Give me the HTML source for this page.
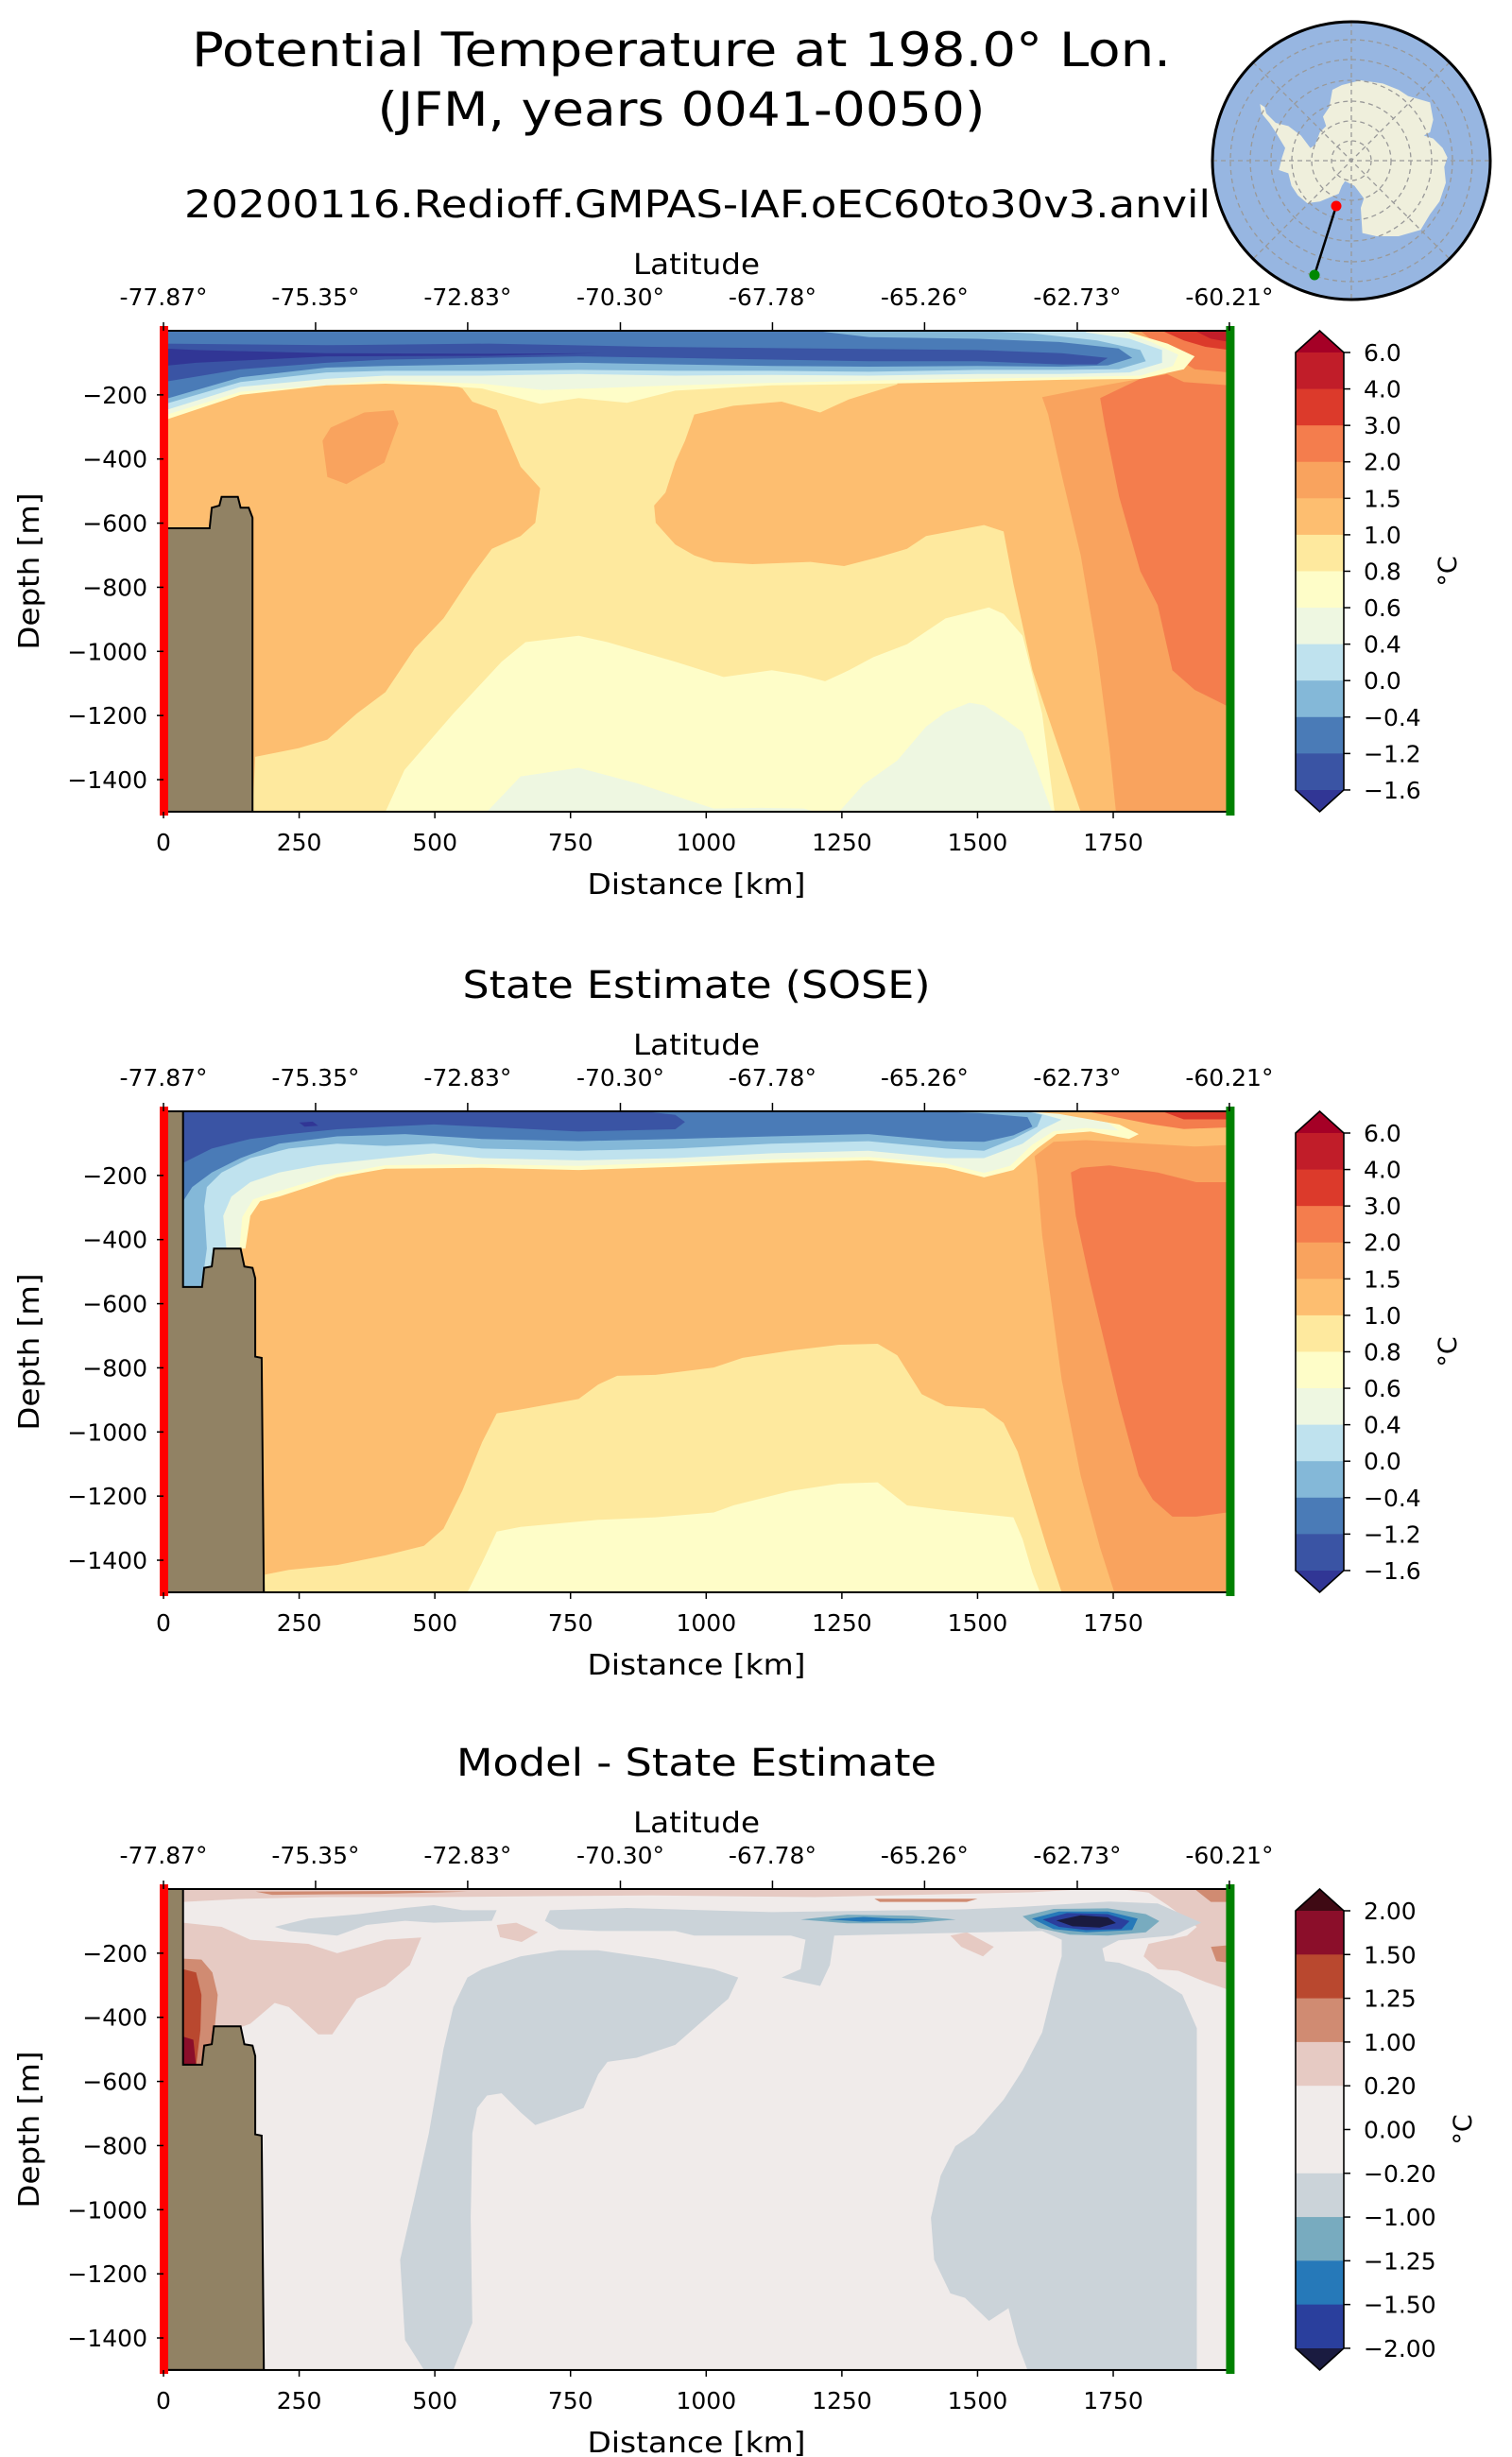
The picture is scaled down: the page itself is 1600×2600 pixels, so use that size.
<!DOCTYPE html>
<html><head><meta charset="utf-8"><style>
html,body{margin:0;padding:0;background:#fff}
svg{display:block}
text{font-family:"DejaVu Sans","Liberation Sans",sans-serif;fill:#000}
</style></head><body>
<svg id="fig" xmlns="http://www.w3.org/2000/svg" width="1600" height="2600" viewBox="0 0 1600 2600">
<rect width="1600" height="2600" fill="#fff"/>
<text x="721" y="70" font-size="50" text-anchor="middle" textLength="1036" lengthAdjust="spacingAndGlyphs">Potential Temperature at 198.0° Lon.</text>
<text x="721" y="133" font-size="50" text-anchor="middle" textLength="643" lengthAdjust="spacingAndGlyphs">(JFM, years 0041-0050)</text>
<text x="738" y="230" font-size="40" text-anchor="middle" textLength="1086" lengthAdjust="spacingAndGlyphs">20200116.Redioff.GMPAS-IAF.oEC60to30v3.anvil</text>
<g>
<circle cx="1430" cy="170" r="147" fill="#97b6e1"/>
<g transform="translate(1250,0) scale(0.3333)">
<polygon fill="#efefdc" points="480,285 510,270 570,255 640,265 690,285 720,305 790,325 800,380 790,420 770,430 800,440 830,470 845,500 835,530 840,580 820,640 790,680 760,730 690,750 620,750 575,740 570,660 580,630 550,590 520,575 510,590 500,615 440,640 400,645 370,620 350,590 340,550 310,540 320,500 330,470 300,420 280,390 255,360 250,330 265,340 270,360 300,390 340,400 380,430 410,470 425,460 440,420 460,400 450,370 470,340"/>
</g>
<g fill="none" stroke="#999" stroke-width="1.3" stroke-dasharray="5,4">
<circle cx="1430" cy="170" r="21"/><circle cx="1430" cy="170" r="42"/><circle cx="1430" cy="170" r="63"/><circle cx="1430" cy="170" r="85"/><circle cx="1430" cy="170" r="107"/><circle cx="1430" cy="170" r="128"/>
<line x1="1283" y1="170" x2="1577" y2="170"/><line x1="1430" y1="23" x2="1430" y2="317"/>
<line x1="1326" y1="66" x2="1534" y2="274"/><line x1="1534" y1="66" x2="1326" y2="274"/>
</g>
<line x1="1414" y1="218" x2="1391" y2="291" stroke="#000" stroke-width="2.5"/>
<circle cx="1414" cy="218" r="5.5" fill="#f00"/>
<circle cx="1391" cy="291" r="5.5" fill="#080"/>
<circle cx="1430" cy="170" r="147" fill="none" stroke="#000" stroke-width="3"/>
</g>
</svg>
<script>
// ---------- data ----------
const xTicks = [0,250,500,750,1000,1250,1500,1750];
const yTicks = [200,400,600,800,1000,1200,1400];
const latTicks = [-77.87,-75.35,-72.83,-70.30,-67.78,-65.26,-62.73,-60.21];
const tempLevels = ['6.0','4.0','3.0','2.0','1.5','1.0','0.8','0.6','0.4','0.0','\u22120.4','\u22121.2','\u22121.6'];
const tempColors = ['#313695','#3a54a4','#4a7bb7','#84b8d8','#bfe2ee','#eef7e1','#fefdc8','#fee99e','#fdbe70','#f9a35e','#f47d4d','#dc3a2b','#c11d29','#a50026'];
const diffLevels = ['2.00','1.50','1.25','1.00','0.20','0.00','\u22120.20','\u22121.00','\u22121.25','\u22121.50','\u22122.00'];
const diffColors = ['#1a1b40','#2a3f9d','#2679b9','#78abbf','#cbd3d9','#f0ebea','#f0ebea','#e6cac3','#d08b72','#b9482f','#8b0e2a','#3f0a14'];
const domain = [[0,0],[1964,0],[1964,1500],[0,1500]];

// Panel 1 (model) contour regions [km, depth m]
const p1Yellow = [[444,113],[1352,113],[1352,167],[1263,214],[1210,255],[1139,221],[1050,234],[978,261],[961,343],[943,410],[925,505],[904,545],[907,599],[943,667],[978,701],[1014,721],[1085,728],[1192,721],[1254,734],[1316,707],[1370,680],[1405,640],[1512,606],[1548,626],[1566,789],[1601,1059],[1655,1329],[1690,1500],[164,1500],[169,1329],[249,1302],[302,1275],[356,1194],[409,1127],[463,991],[516,897],[569,762],[605,680],[658,640],[685,599],[694,491],[658,424],[614,248],[569,221],[551,180]];
const p1Pale = [[409,1500],[444,1370],[534,1194],[623,1032],[667,971],[765,951],[818,971],[943,1032],[1032,1080],[1121,1059],[1174,1073],[1219,1093],[1263,1059],[1308,1018],[1370,978],[1441,897],[1521,863],[1548,883],[1583,951],[1619,1194],[1642,1500]];
const p1GreenA = [[596,1500],[658,1390],[765,1363],[872,1411],[943,1451],[1014,1490],[1100,1488],[1180,1490],[1200,1500]];
const p1GreenB = [[1245,1500],[1290,1415],[1352,1340],[1405,1235],[1441,1190],[1485,1160],[1512,1168],[1548,1208],[1583,1252],[1610,1370],[1637,1500]];
const p1LeftPatch = [[308,302],[370,255],[424,248],[433,289],[407,411],[337,478],[302,456],[293,343]];
const p1Warm15 = [[1619,207],[1630,260],[1655,450],[1690,700],[1720,1000],[1743,1300],[1755,1500],[1964,1500],[1964,150],[1800,150],[1700,180]];
const p1Warm20 = [[1726,210],[1735,300],[1761,518],[1800,750],[1832,856],[1859,1059],[1900,1120],[1964,1174],[1964,100],[1800,150]];
const p1Top15 = [[1620,0],[1964,0],[1964,170],[1880,160],[1830,120],[1760,70]];
const p1Top20 = [[1800,0],[1964,0],[1964,130],[1900,120],[1850,70]];
const p1Top30 = [[1840,0],[1964,0],[1964,60],[1920,50],[1880,30]];
const p1Top40 = [[1900,0],[1964,0],[1964,35],[1930,25]];
const p1SurfA = [[0,0],[0,280],[142,200],[300,170],[409,165],[500,170],[587,180],[694,228],[765,210],[854,225],[943,187],[1121,170],[1300,166],[1477,160],[1655,153],[1800,150],[1880,120],[1900,80],[1850,40],[1780,5],[1780,0]];
const p1SurfB = [[0,0],[0,265],[142,190],[409,155],[587,165],[700,185],[943,170],[1300,155],[1655,145],[1800,140],[1860,110],[1870,75],[1820,35],[1760,0]];
const p1SurfC = [[0,0],[0,250],[142,175],[300,150],[409,140],[587,140],[765,135],[943,140],[1121,138],[1300,140],[1500,135],[1655,135],[1780,130],[1840,100],[1840,60],[1780,25],[1700,5],[1700,0]];
const p1SurfD = [[0,0],[0,230],[142,160],[300,130],[409,125],[587,125],[765,122],[943,125],[1121,125],[1300,128],[1500,122],[1655,122],[1760,120],[1810,95],[1800,60],[1720,30],[1600,8],[1500,0]];
const p1SurfE = [[0,0],[0,215],[142,145],[300,115],[409,110],[587,105],[765,100],[943,105],[1121,110],[1300,112],[1500,110],[1655,112],[1740,108],[1785,85],[1760,55],[1650,35],[1500,25],[1300,20],[1200,0]];
const p1SurfF = [[0,40],[300,45],[600,40],[900,50],[1200,55],[1500,60],[1655,70],[1740,85],[1720,105],[1655,105],[1500,95],[1300,95],[1121,90],[943,85],[765,80],[587,85],[409,90],[300,100],[142,120],[0,160]];
const p1SurfG = [[0,55],[60,60],[300,70],[600,72],[800,70],[600,78],[300,80],[60,100],[0,110]];
const p1Land = [[0,616],[85,616],[89,552],[103,545],[107,518],[137,518],[142,552],[157,552],[164,583],[164,1500],[0,1500]];

// Panel 2 (SOSE)
const p2Yellow = [[185,1500],[187,1445],[231,1430],[320,1415],[409,1385],[480,1355],[516,1302],[551,1182],[587,1032],[614,942],[658,930],[765,897],[801,852],[836,825],[907,822],[1014,799],[1067,769],[1156,746],[1245,728],[1316,725],[1352,761],[1397,882],[1441,919],[1512,927],[1548,972],[1574,1062],[1601,1212],[1628,1362],[1655,1500]];
const p2Pale = [[560,1500],[587,1408],[614,1311],[658,1296],[801,1274],[907,1266],[1014,1251],[1050,1229],[1156,1184],[1245,1161],[1316,1157],[1370,1229],[1441,1244],[1566,1266],[1583,1334],[1601,1439],[1615,1500]];
const p2Warm15 = [[1605,140],[1640,95],[1700,90],[1800,100],[1900,110],[1964,105],[1964,1500],[1752,1500],[1726,1362],[1690,1137],[1655,837],[1619,386],[1610,200]];
const p2Warm20 = [[1672,191],[1690,176],[1743,169],[1832,191],[1903,221],[1964,221],[1964,1250],[1903,1264],[1859,1264],[1823,1211],[1797,1137],[1761,912],[1708,537],[1681,326]];
const p2Top20 = [[1700,0],[1964,0],[1964,50],[1880,55],[1820,40],[1760,20]];
const p2Top30 = [[1840,0],[1964,0],[1964,25],[1880,25]];
const p2SurfA = [[36,0],[36,548],[71,548],[75,488],[89,484],[93,428],[151,428],[160,326],[178,281],[213,266],[267,236],[320,206],[409,179],[587,176],[765,183],[943,173],[1121,161],[1299,153],[1441,176],[1512,206],[1566,183],[1610,116],[1646,71],[1708,63],[1779,86],[1797,71],[1761,41],[1655,11],[1583,0]];
const p2SurfB = [[36,0],[36,548],[71,548],[75,488],[89,484],[93,428],[140,428],[145,330],[165,275],[200,255],[260,225],[320,195],[409,168],[587,165],[765,170],[943,160],[1121,150],[1299,142],[1441,163],[1512,192],[1560,170],[1600,105],[1640,62],[1700,52],[1760,60],[1740,35],[1650,8],[1583,0]];
const p2SurfC = [[36,0],[36,548],[71,548],[75,488],[89,484],[93,428],[116,428],[110,326],[125,266],[160,221],[213,191],[285,168],[409,146],[498,131],[587,146],[765,153],[943,146],[1121,131],[1299,123],[1441,146],[1512,146],[1583,101],[1619,56],[1655,26],[1600,0]];
const p2SurfD = [[36,0],[36,548],[71,548],[75,488],[80,428],[75,296],[80,236],[107,191],[160,146],[231,116],[320,101],[409,108],[498,101],[587,116],[765,123],[943,116],[1121,101],[1299,93],[1441,116],[1512,123],[1566,86],[1610,48],[1619,11],[1590,0]];
const p2SurfE = [[36,0],[36,281],[53,236],[89,191],[142,146],[213,101],[320,78],[445,71],[587,86],[765,93],[943,86],[1121,78],[1299,71],[1441,93],[1512,95],[1566,75],[1601,48],[1592,18],[1500,5],[1400,0]];
const p2SurfF = [[36,0],[36,161],[89,116],[160,86],[231,71],[320,56],[409,48],[498,41],[587,48],[765,63],[943,56],[961,33],[943,11],[900,3],[700,0]];
const p2SurfG = [[250,35],[275,32],[285,45],[260,48]];
const p2Land = [[0,0],[36,0],[36,548],[71,548],[75,488],[89,484],[93,428],[142,428],[149,484],[164,488],[169,521],[169,765],[181,769],[185,1500],[0,1500]];

// Panel 3 (difference)
const p3TopStrip = [[36,0],[1700,0],[1600,10],[1200,25],[900,20],[700,22],[500,25],[300,25],[150,30],[36,40]];
const p3WarmLeft = [[36,105],[107,118],[160,158],[267,171],[320,200],[409,158],[475,151],[454,237],[409,302],[356,342],[311,453],[285,453],[231,368],[205,355],[160,420],[116,447],[80,552],[36,552]];
const p3WarmRight = [[1761,0],[1964,0],[1964,315],[1920,290],[1870,255],[1832,250],[1806,210],[1815,171],[1886,145],[1904,118],[1850,50],[1815,11]];
const p3BlobA = [[614,112],[650,105],[690,135],[660,165],[620,150]];
const p3BlobB = [[1450,145],[1480,135],[1530,180],[1510,210],[1470,180]];
const p3Mid1 = [[170,8],[460,6],[560,8],[400,15],[200,18]];
const p3Mid2 = [[1310,30],[1500,30],[1480,40],[1320,40]];
const p3Mid3 = [[1900,0],[1964,0],[1964,40],[1930,40]];
const p3Mid4 = [[1930,180],[1964,175],[1964,230],[1940,225]];
const p3WallA = [[36,217],[70,220],[90,260],[100,330],[95,420],[82,552],[36,552]];
const p3WallB = [[36,250],[60,260],[70,330],[68,440],[60,552],[36,552]];
const p3WallC = [[36,460],[55,470],[60,552],[36,552]];
const p3Cool1 = [[205,118],[267,92],[356,79],[445,59],[498,50],[551,66],[614,66],[605,99],[498,105],[445,99],[374,112],[320,145],[231,131]];
const p3Cool2 = [[703,99],[712,66],[854,59],[1121,72],[1477,63],[1583,55],[1743,39],[1832,45],[1912,105],[1860,145],[1760,160],[1730,185],[1735,225],[1761,230],[1815,263],[1877,329],[1904,434],[1904,1500],[1592,1500],[1574,1419],[1557,1307],[1521,1347],[1477,1275],[1450,1261],[1420,1156],[1414,1025],[1432,894],[1459,802],[1494,762],[1548,657],[1583,565],[1619,447],[1646,263],[1655,210],[1655,158],[1619,131],[1236,145],[1228,237],[1210,302],[1174,289],[1139,276],[1174,250],[1183,158],[1156,145],[978,145],[943,131],[801,131],[729,125]];
const p3Cool3 = [[560,276],[587,250],[658,210],[729,191],[801,191],[907,217],[1014,250],[1059,276],[1041,342],[1014,381],[978,434],[943,486],[872,526],[818,539],[801,578],[774,683],[720,716],[685,736],[658,696],[623,637],[596,644],[578,683],[569,762],[566,1025],[569,1353],[534,1500],[480,1500],[445,1406],[436,1156],[463,959],[489,762],[516,499],[534,368]];
const p3CoreRing = [[1583,85],[1640,62],[1740,60],[1810,78],[1835,100],[1810,135],[1740,145],[1670,142],[1610,120]];
const p3CoreMid = [[1600,92],[1650,70],[1740,70],[1795,92],[1785,128],[1700,135],[1640,125]];
const p3CoreDeep = [[1620,95],[1665,75],[1740,78],[1780,100],[1765,125],[1700,128],[1650,118]];
const p3CoreMin = [[1645,98],[1690,82],[1740,88],[1755,106],[1725,120],[1675,116]];
const p3StreakRing = [[1174,95],[1260,80],[1380,83],[1460,95],[1380,107],[1260,107]];
const p3StreakIn = [[1225,95],[1290,87],[1345,92],[1420,95],[1345,99],[1290,102]];
const p3Land = p2Land;

// layers: [colour index, region]
const p1Layers = [[8,domain],[7,p1Yellow],[6,p1Pale],[5,p1GreenA],[5,p1GreenB],[9,p1LeftPatch],[9,p1Warm15],[10,p1Warm20],[9,p1Top15],[10,p1Top20],[11,p1Top30],[12,p1Top40],[6,p1SurfA],[5,p1SurfB],[4,p1SurfC],[3,p1SurfD],[2,p1SurfE],[1,p1SurfF],[0,p1SurfG]];
const p2Layers = [[8,domain],[7,p2Yellow],[6,p2Pale],[9,p2Warm15],[10,p2Warm20],[10,p2Top20],[11,p2Top30],[6,p2SurfA],[5,p2SurfB],[4,p2SurfC],[3,p2SurfD],[2,p2SurfE],[1,p2SurfF],[0,p2SurfG]];
const p3Layers = [[5,domain],[7,p3TopStrip],[7,p3WarmLeft],[7,p3WarmRight],[7,p3BlobA],[7,p3BlobB],[8,p3Mid1],[8,p3Mid2],[8,p3Mid3],[8,p3Mid4],[8,p3WallA],[9,p3WallB],[10,p3WallC],[4,p3Cool1],[4,p3Cool2],[4,p3Cool3],[3,p3CoreRing],[2,p3CoreMid],[1,p3CoreDeep],[0,p3CoreMin],[3,p3StreakRing],[2,p3StreakIn]];

// ---------- drawing ----------
const NS='http://www.w3.org/2000/svg';
const svg=document.getElementById('fig');
const X0=173, KMPX=0.5743, DPX=0.3393, MAXKM=1964;
function xs(km){return X0+km*KMPX;}
function ys(top,d){return top+d*DPX;}
function latToKm(lat){return (lat-latTicks[0])/(latTicks[latTicks.length-1]-latTicks[0])*MAXKM;}
function mk(tag,attrs,parent){const e=document.createElementNS(NS,tag);for(const k in attrs)e.setAttribute(k,attrs[k]);(parent||svg).appendChild(e);return e;}
function txt(s,attrs,parent){const t=mk('text',attrs,parent);t.textContent=s;return t;}

function panel(top,layers,colors,land,levels,title,idx){
  const g=mk('g',{});
  
  
  const bottom=ys(top,1500), left=xs(0), right=xs(MAXKM);
  const cp=mk('clipPath',{id:'clip'+idx},g);
  mk('rect',{x:left,y:top,width:right-left,height:bottom-top},cp);
  const fg=mk('g',{'clip-path':'url(#clip'+idx+')'},g);
  
  
  layers.forEach(function(L,i){
    const p=mk('polygon',{points:L[1].map(function(q){return xs(q[0]).toFixed(1)+','+ys(top,q[1]).toFixed(1);}).join(' '),fill:colors[L[0]]},fg);
    
    
  });
  const ld=mk('polygon',{points:land.map(function(q){return xs(q[0]).toFixed(1)+','+ys(top,q[1]).toFixed(1);}).join(' '),fill:'#918264',stroke:'#000','stroke-width':2},fg);
  
  
  mk('rect',{x:left,y:top,width:right-left,height:bottom-top,fill:'none',stroke:'#000','stroke-width':2},g);
  const rl=mk('line',{x1:left+0.5,y1:top-5,x2:left+0.5,y2:bottom+4,stroke:'#f00','stroke-width':9},g);
  
  
  const gl=mk('line',{x1:right+1,y1:top-5,x2:right+1,y2:bottom+4,stroke:'#008000','stroke-width':9},g);
  
  
  xTicks.forEach(function(v){
    const x=xs(v);
    mk('line',{x1:x,y1:bottom,x2:x,y2:bottom+7,stroke:'#000','stroke-width':1.5},g);
    const t=txt(String(v),{x:x,y:bottom+41,'font-size':25,'text-anchor':'middle'},g);
    
    
  });
  const xl=txt('Distance [km]',{x:737,y:bottom+87,'font-size':30,'text-anchor':'middle',textLength:231,lengthAdjust:'spacingAndGlyphs'},g);
  
  
  yTicks.forEach(function(v){
    const y=ys(top,v);
    mk('line',{x1:left-7,y1:y,x2:left,y2:y,stroke:'#000','stroke-width':1.5},g);
    const t=txt('\u2212'+v,{x:left-17,y:y+9,'font-size':25,'text-anchor':'end'},g);
    
    
  });
  const yl=txt('Depth [m]',{x:0,y:0,'font-size':30,'text-anchor':'middle',transform:'translate(41,'+((top+bottom)/2)+') rotate(-90)',textLength:166,lengthAdjust:'spacingAndGlyphs'},g);
  
  
  latTicks.forEach(function(v){
    const x=xs(latToKm(v));
    mk('line',{x1:x,y1:top-9,x2:x,y2:top,stroke:'#000','stroke-width':1.5},g);
    const t=txt(v.toFixed(2)+'\u00b0',{x:x,y:top-27,'font-size':25,'text-anchor':'middle'},g);
    
    
  });
  const ll=txt('Latitude',{x:737,y:top-60,'font-size':30,'text-anchor':'middle',textLength:134,lengthAdjust:'spacingAndGlyphs'},g);
  
  
  if(title){
    const tt=txt(title,{x:737,y:top-120,'font-size':40,'text-anchor':'middle',textLength:(idx===3?508:495),lengthAdjust:'spacingAndGlyphs'},g);
    
    
  }
  const cb=mk('g',{},g);
  
  
  const cx0=1371, cx1=1422, cmid=(cx0+cx1)/2, c0=top+23, c1=bottom-23, n=levels.length-1, h=(c1-c0)/n;
  for(let i=0;i<n;i++){
    const r=mk('rect',{x:cx0,y:c0+i*h,width:cx1-cx0,height:h+0.6,fill:colors[n-i]},cb);
    
    
  }
  mk('polygon',{points:cx0+','+c0+' '+cmid+','+top+' '+cx1+','+c0,fill:colors[n+1]},cb);
  mk('polygon',{points:cx0+','+c1+' '+cmid+','+bottom+' '+cx1+','+c1,fill:colors[0]},cb);
  mk('polygon',{points:cx0+','+c0+' '+cmid+','+top+' '+cx1+','+c0+' '+cx1+','+c1+' '+cmid+','+bottom+' '+cx0+','+c1,fill:'none',stroke:'#000','stroke-width':1.6},cb);
  levels.forEach(function(s,i){
    const y=c0+i*h;
    mk('line',{x1:cx1,y1:y,x2:cx1+7,y2:y,stroke:'#000','stroke-width':1.5},cb);
    const t=txt(s,{x:1443,y:y+9,'font-size':25},cb);
    
    
  });
  const ul=txt('\u00b0C',{x:0,y:0,'font-size':27,'text-anchor':'middle',transform:'translate('+(idx===3?1557:1541)+','+((top+bottom)/2)+') rotate(-90)'},cb);
  
  
}
panel(350,p1Layers,tempColors,p1Land,tempLevels,null,1);
panel(1176,p2Layers,tempColors,p2Land,tempLevels,'State Estimate (SOSE)',2);
panel(1999,p3Layers,diffColors,p3Land,diffLevels,'Model - State Estimate',3);
</script>
</body></html>
